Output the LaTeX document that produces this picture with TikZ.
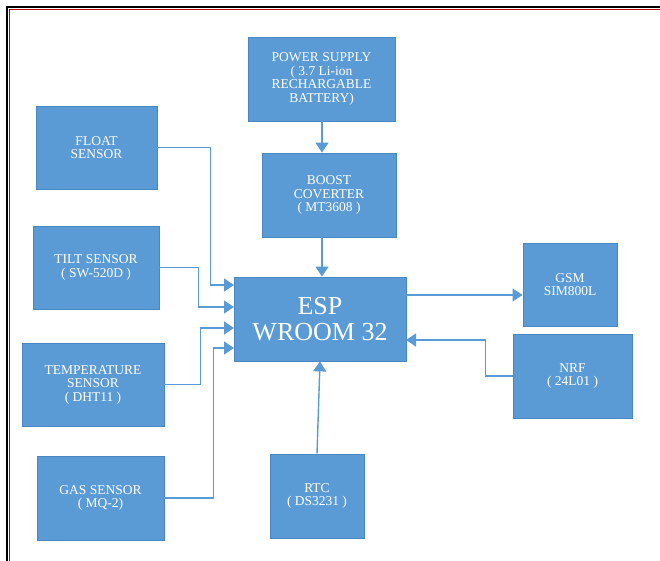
\documentclass[tikz,border=0pt]{standalone}
\usepackage{fontspec}
\setmainfont{Liberation Serif}
\usepackage{xcolor}
\usetikzlibrary{arrows.meta, positioning}
\definecolor{boxblue}{HTML}{5B9BD5}
\definecolor{boxedge}{HTML}{4A86C0}
\definecolor{lineblue}{HTML}{6FA6DA}
\tikzset{
  >=latex,
  % blocchi
  block/.style={draw=boxedge,line width=0.8pt,fill=boxblue,text=white,align=center,
    inner sep=0pt,font=\rmfamily\fontsize{13.5}{13.5}\selectfont},
  block big/.style={block,font=\rmfamily\fontsize{26}{26}\selectfont},
  % collegamenti
  link/.style={lineblue,line width=1.4pt},
  link arrow/.style={link,-{Triangle[length=10pt,width=13pt]},color=boxblue}
}
\begin{document}
\begin{tikzpicture}[x=1pt,y=-1pt]
    \useasboundingbox (0,0) rectangle (660,561);
    \draw[line width=2pt] (7,561) -- (7,7) -- (660,7);
    \draw[red!70!black, line width=.4pt] (9.5,561) -- (9.5,9.5) -- (660,9.5);
    \node[block, minimum width=147, minimum height=84] (Power) at (321.5,79)  {POWER SUPPLY\\( 3.7 Li-ion\\RECHARGABLE\\BATTERY)};
    \node[block, minimum width=134, minimum height=84] (Boost) at (329,195)   {BOOST\\COVERTER\\( MT3608 )};
    \node[block big, minimum width=172, minimum height=84] (Esp) at (320,319) {ESP\\WROOM 32};
    \node[block, minimum width=121, minimum height=83] (Float) at (96.5,147.5) {FLOAT\\SENSOR};
    \node[block, minimum width=126, minimum height=83] (Tilt)  at (96,267.5)  {TILT SENSOR\\( SW-520D )};
    \node[block, minimum width=142, minimum height=83] (Temp)  at (93,384.5)  {TEMPERATURE\\SENSOR\\( DHT11 )};
    \node[block, minimum width=127, minimum height=84] (Gas)   at (100.5,498) {GAS SENSOR\\( MQ-2)};
    \node[block, minimum width=94, minimum height=84]  (Rtc)   at (317,496)   {RTC\\( DS3231 )};
    \node[block, minimum width=94, minimum height=83]  (Gsm)   at (570,284.5) {GSM\\SIM800L};
    \node[block, minimum width=119, minimum height=84] (Nrf)   at (572.5,376) {NRF\\( 24L01 )};
    \coordinate (InFloat) at (234,285);
    \coordinate (InTilt)  at (234,307);
    \coordinate (InTemp)  at (234,328);
    \coordinate (InGas)   at (234,348);
    \coordinate (InNrf)   at (406,340);
    \coordinate (OutGsm)  at (406,295);
    \coordinate (PwrLine) at (322,0);
    \draw[link arrow] (Power.south -| PwrLine) -- (Boost.north -| PwrLine);
    \draw[link arrow] (Boost.south -| PwrLine) -- (Esp.north -| PwrLine);
    \draw[link arrow] (Float.east) -- ++(53,0) |- (InFloat);
    \draw[link arrow] (Tilt.east)  -- ++(39,0) |- (InTilt);
    \draw[link arrow] (Temp.east)  -- ++(36,0) |- (InTemp);
    \draw[link arrow] (Gas.east)   -- ++(49,0) |- (InGas);
    \draw[link arrow] (Rtc.north)  -- (Esp.south);
    \draw[link arrow] (OutGsm)     -- (OutGsm -| Gsm.west);
    \draw[link arrow] (Nrf.west)   -- ++(-27,0) |- (InNrf);
  \end{tikzpicture}
\end{document}
